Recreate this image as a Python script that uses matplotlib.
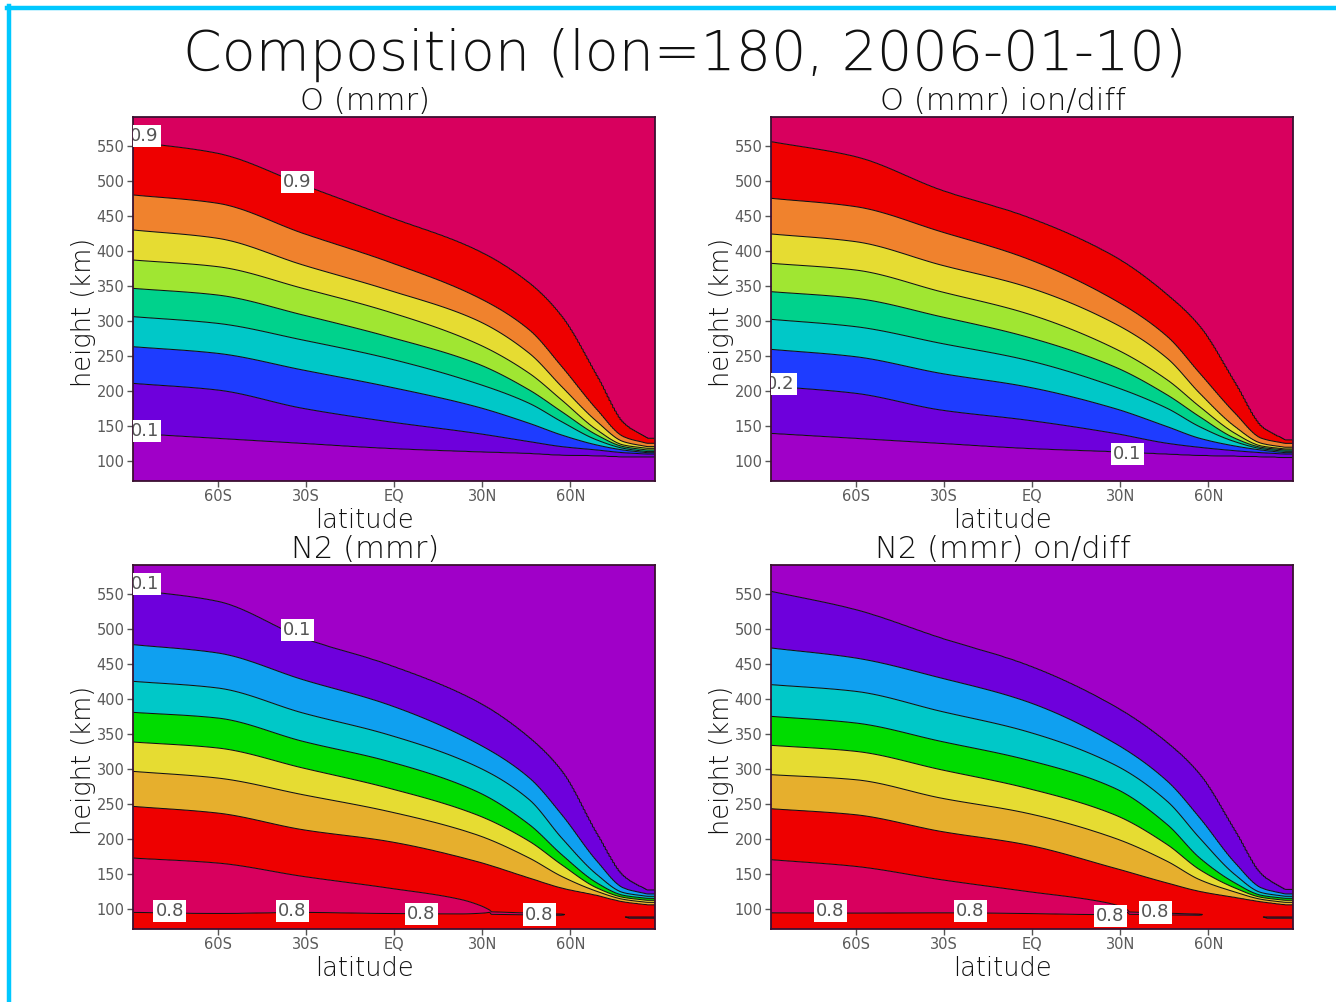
import numpy as np
import matplotlib
matplotlib.use("Agg")
import matplotlib.pyplot as plt
from matplotlib.lines import Line2D

# ---------------- data ----------------
levels_o = [0.1, 0.2, 0.3, 0.4, 0.5, 0.6, 0.7, 0.8, 0.9]
levels_n2 = [0.1, 0.2, 0.3, 0.4, 0.5, 0.6, 0.7, 0.8]
col_lats = [-88.75, -60, -31, -2, 28, 46, 57, 69, 78, 86]

# heights (km) of each contour level (rows 0.1 .. 0.9) at col_lats -- O (mmr)
o_mmr_km = [
    [139.5, 132.4, 125.2, 118.1, 113.3, 110.9, 108.5, 107.6, 106.2, 106.2],
    [210.9, 201.4, 175.2, 156.2, 139.5, 127.6, 120.5, 115.7, 111.9, 110.0],
    [263.3, 253.8, 230.0, 206.2, 177.6, 153.8, 137.1, 122.8, 115.7, 111.9],
    [306.2, 296.6, 272.8, 246.6, 211.0, 182.4, 156.2, 130.0, 118.1, 113.3],
    [346.6, 337.1, 308.6, 277.6, 239.5, 201.4, 170.5, 137.1, 120.5, 115.7],
    [387.1, 377.6, 346.6, 313.3, 268.1, 225.2, 187.1, 144.3, 122.8, 118.1],
    [430.0, 418.1, 380.0, 344.3, 301.4, 253.8, 206.2, 156.2, 127.6, 120.5],
    [480.0, 468.1, 425.2, 384.7, 334.7, 287.1, 234.7, 173.0, 134.7, 125.2],
    [556.2, 539.5, 494.3, 449.0, 401.4, 353.8, 306.2, 220.5, 153.8, 132.4],
]
# O (mmr) ion/diff
o_iondiff_km = [
    [139.5, 132.4, 125.2, 118.1, 113.3, 110.0, 108.1, 107.1, 106.2, 105.2],
    [207.1, 196.7, 172.8, 158.5, 139.5, 125.2, 119.5, 114.7, 111.9, 110.0],
    [259.5, 249.0, 225.2, 206.2, 175.2, 149.0, 132.4, 121.4, 115.7, 111.9],
    [302.4, 291.9, 268.1, 244.3, 206.2, 175.2, 149.0, 127.6, 117.6, 113.8],
    [341.9, 332.4, 306.2, 277.6, 234.7, 194.3, 163.3, 132.4, 119.5, 115.7],
    [382.4, 372.8, 341.9, 311.0, 260.9, 215.7, 177.6, 139.5, 121.4, 117.1],
    [424.3, 413.3, 380.0, 349.0, 296.6, 246.6, 196.7, 149.0, 125.2, 119.5],
    [475.2, 463.3, 427.6, 389.5, 330.0, 277.6, 225.2, 168.1, 132.4, 125.2],
    [556.2, 534.7, 487.1, 449.0, 391.9, 337.1, 291.9, 210.9, 149.0, 130.0],
]
# N2 (mmr), rows 0.1 .. 0.7
n2_mmr_km = [
    [556.2, 539.5, 487.1, 449.0, 396.6, 344.3, 296.6, 206.2, 146.6, 126.6],
    [477.6, 465.7, 427.6, 391.9, 337.1, 287.1, 234.7, 168.1, 130.0, 121.4],
    [425.2, 415.7, 380.0, 349.0, 303.8, 256.2, 201.4, 149.0, 123.3, 118.1],
    [380.9, 372.8, 339.5, 311.0, 268.1, 220.5, 177.6, 137.1, 119.5, 115.2],
    [338.5, 330.0, 301.4, 272.8, 234.7, 196.7, 163.3, 130.0, 116.6, 112.4],
    [296.6, 287.1, 263.3, 239.5, 206.2, 172.8, 146.6, 125.2, 113.8, 109.5],
    [246.6, 237.1, 213.3, 196.7, 168.1, 144.3, 130.0, 119.5, 110.4, 106.2],
]
# N2 (mmr) on/diff
n2_ondiff_km = [
    [553.8, 527.6, 487.1, 449.0, 389.5, 337.1, 291.9, 210.9, 149.0, 127.6],
    [472.8, 458.5, 430.0, 396.6, 337.1, 282.4, 230.0, 165.7, 130.0, 121.4],
    [420.5, 410.9, 382.4, 353.8, 306.2, 253.8, 201.4, 149.0, 123.3, 118.1],
    [375.2, 365.7, 339.5, 313.3, 272.8, 220.5, 172.8, 137.1, 119.5, 115.2],
    [333.8, 325.2, 299.0, 272.8, 234.7, 191.9, 156.2, 130.0, 116.6, 112.4],
    [291.9, 284.7, 258.5, 237.1, 201.4, 168.1, 141.9, 124.3, 113.8, 109.5],
    [243.3, 234.7, 210.9, 191.9, 158.5, 137.1, 125.2, 116.6, 110.4, 106.2],
]
# N2 > 0.8 region near the bottom (south of ~33N)
crim_lats = [-88.75, -60, -31, -2, 23, 30, 33]
n2_mmr_up08 = [172.8, 165.7, 146.6, 130.0, 113.3, 103.8, 97.5]
n2_mmr_lo08 = [95.0, 93.5, 95.0, 93.5, 93.0, 94.0, 95.5]
n2_ondiff_up08 = [170.5, 160.9, 141.9, 125.2, 110.9, 103.8, 97.5]
n2_ondiff_lo08 = [94.5, 94.0, 94.5, 93.5, 92.0, 93.0, 95.5]
crim_peak = [0.83, 0.83, 0.83, 0.825, 0.815, 0.808, 0.802]
# thin N2 ~0.8 sliver north of 33N
sliver_lats = [33, 57, 62, 76, 80, 88.75]
sliver_peak = [0.803, 0.802, 0.795, 0.795, 0.803, 0.803]
sliver_km = [94, 92, 92, 90, 88, 88]

xtick_vals = [-60, -30, 0, 30, 60]
xtick_labels = ["60S", "30S", "EQ", "30N", "60N"]
ytick_vals = [100, 150, 200, 250, 300, 350, 400, 450, 500, 550]

colors_o = ["#a000c8", "#6e00dc", "#1e3cff", "#00c8c8", "#00d28c",
            "#a0e632", "#e6dc32", "#f0822d", "#ee0000", "#d8005e"]
colors_n2 = ["#a000c8", "#6e00dc", "#0fa0f0", "#00c8c8", "#00dc00",
             "#e6dc32", "#e6af2d", "#ee0000", "#d8005e"]

# ---------------- grid helpers ----------------
LAT_MIN, LAT_MAX = -88.75, 88.75
Z_MIN, Z_MAX = 71.4, 591.4
lat_grid = np.linspace(LAT_MIN, LAT_MAX, 285)
z_grid = np.linspace(Z_MIN, Z_MAX, 700)


def pchip(x, y, xn):
    x = np.asarray(x, float); y = np.asarray(y, float)
    xn = np.clip(np.asarray(xn, float), x[0], x[-1])
    h = np.diff(x); d = np.diff(y) / h
    n = len(x); m = np.zeros(n)
    m[0], m[-1] = d[0], d[-1]
    for k in range(1, n - 1):
        if d[k - 1] * d[k] > 0:
            w1 = 2 * h[k] + h[k - 1]; w2 = h[k] + 2 * h[k - 1]
            m[k] = (w1 + w2) / (w1 / d[k - 1] + w2 / d[k])
    i = np.clip(np.searchsorted(x, xn) - 1, 0, n - 2)
    t = (xn - x[i]) / h[i]
    h00 = 2 * t**3 - 3 * t**2 + 1; h10 = t**3 - 2 * t**2 + t
    h01 = -2 * t**3 + 3 * t**2; h11 = t**3 - t**2
    return h00 * y[i] + h10 * h[i] * m[i] + h01 * y[i + 1] + h11 * h[i] * m[i + 1]


def field_o(iso):
    H = np.array([pchip(col_lats, row, lat_grid) for row in iso])
    for k in range(1, H.shape[0]):
        H[k] = np.maximum(H[k], H[k - 1] + 0.3)
    Z = np.empty((len(z_grid), len(lat_grid)))
    for j in range(len(lat_grid)):
        hs = np.concatenate([[Z_MIN - 1], H[:, j], [Z_MAX + 10]])
        vs = np.concatenate([[0.05], levels_o, [0.95]])
        Z[:, j] = np.interp(z_grid, hs, vs)
    return Z


def field_n2(iso, up08, lo08):
    H = np.array([pchip(col_lats, row, lat_grid) for row in iso])  # 0.1 .. 0.7
    for k in range(H.shape[0] - 2, -1, -1):
        H[k] = np.maximum(H[k], H[k + 1] + 0.3)
    up = pchip(crim_lats, up08, lat_grid)
    lo = pchip(crim_lats, lo08, lat_grid)
    pk = np.interp(lat_grid, crim_lats, crim_peak)
    sp = np.interp(lat_grid, sliver_lats, sliver_peak)
    sh = np.interp(lat_grid, sliver_lats, sliver_km)
    Z = np.empty((len(z_grid), len(lat_grid)))
    for j, la in enumerate(lat_grid):
        if la <= crim_lats[-1]:
            hs = [Z_MIN - 1, lo[j], 0.5 * (lo[j] + up[j]), up[j]]
            vs = [0.76, 0.8, pk[j], 0.8]
        else:
            hs = [Z_MIN - 1, sh[j]]
            vs = [0.76, sp[j]]
        hs = hs + list(H[::-1, j]) + [Z_MAX + 10]
        vs = vs + levels_n2[:7][::-1] + [0.05]
        hs = np.array(hs)
        for k in range(1, len(hs)):
            hs[k] = max(hs[k], hs[k - 1] + 0.2)
        Z[:, j] = np.interp(z_grid, hs, vs)
    return Z


# ---------------- figure ----------------
W, Hh = 1336, 1002
fig = plt.figure(figsize=(W / 100, Hh / 100), dpi=100)
fig.patch.set_facecolor("white")

FONT = "DejaVu Sans"
TW = "light"


def fx(px):
    return px / W


def fy(py):
    return 1 - py / Hh


panels = [
    dict(rect=(133, 117), kind="o", iso=o_mmr_km, title="O (mmr)",
         labels=[(-84.8, 564, "0.9"), (-32.8, 498.6, "0.9"), (-84.8, 142.9, "0.1")]),
    dict(rect=(771, 117), kind="o", iso=o_iondiff_km, title="O (mmr) ion/diff",
         labels=[(-85.5, 210, "0.2"), (32.4, 110, "0.1")]),
    dict(rect=(133, 565), kind="n2", iso=n2_mmr_km, up=n2_mmr_up08, lo=n2_mmr_lo08,
         title="N2 (mmr)",
         labels=[(-84.8, 564, "0.1"), (-32.8, 498.6, "0.1"),
                 (-76.3, 97, "0.8"), (-34.5, 97, "0.8"), (9.3, 93, "0.8"), (49.4, 92, "0.8")]),
    dict(rect=(771, 565), kind="n2", iso=n2_ondiff_km, up=n2_ondiff_up08, lo=n2_ondiff_lo08,
         title="N2 (mmr) on/diff",
         labels=[(-68.5, 97, "0.8"), (-20.9, 97, "0.8"), (26.6, 90, "0.8"), (41.9, 95, "0.8")]),
]

for p in panels:
    x0, y0 = p["rect"]
    ax = fig.add_axes([fx(x0), fy(y0 + 364), fx(522), 364 / Hh])
    if p["kind"] == "o":
        Z = field_o(p["iso"])
        lev = [0.0] + levels_o + [1.0]
        cols = colors_o
        lines = levels_o
    else:
        Z = field_n2(p["iso"], p["up"], p["lo"])
        lev = [0.0] + levels_n2 + [1.0]
        cols = colors_n2
        lines = levels_n2
    ax.contourf(lat_grid, z_grid, Z, levels=lev, colors=cols, antialiased=True)
    ax.contour(lat_grid, z_grid, Z, levels=lines, colors="#111111", linewidths=0.75)
    for la, hv, s in p["labels"]:
        ax.text(la, hv, s, ha="center", va="center", fontsize=13, color="#555555",
                family=FONT, clip_on=True, zorder=6,
                bbox=dict(boxstyle="square,pad=0.12", fc="white", ec="none"))
    ax.set_xlim(LAT_MIN, LAT_MAX)
    ax.set_ylim(Z_MIN, Z_MAX)
    ax.set_xticks(xtick_vals)
    ax.set_xticklabels(xtick_labels)
    ax.set_yticks(ytick_vals)
    ax.tick_params(direction="out", length=4, width=1, labelsize=10.5,
                   labelcolor="#5a5a5a", color="#555555", pad=2)
    for sp in ax.spines.values():
        sp.set_color("#3a1030")
        sp.set_linewidth(1.3)
    cx = x0 + 232
    fig.text(fx(cx), fy(y0 - 16), p["title"], ha="center", va="center",
             fontsize=22, family=FONT, fontweight=TW, color="#111111")
    fig.text(fx(cx), fy(y0 + 403), "latitude", ha="center", va="center",
             fontsize=18.5, family=FONT, fontweight=TW, color="#111111")
    fig.text(fx(x0 - 49), fy(y0 + 195), "height (km)", ha="center", va="center",
             rotation=90, fontsize=18.5, family=FONT, fontweight=TW, color="#111111")

fig.text(fx(685), fy(55), "Composition (lon=180, 2006-01-10)", ha="center", va="center",
         fontsize=40, family=FONT, fontweight=TW, color="#111111")

# cyan frame (top and left edges)
fig.add_artist(Line2D([fx(7), 1.0], [fy(7.5), fy(7.5)], color="#00c8ff", lw=3.2,
                      transform=fig.transFigure))
fig.add_artist(Line2D([fx(9), fx(9)], [fy(5.5), 0.0], color="#00c8ff", lw=3.2,
                      transform=fig.transFigure))

fig.savefig("out.png", dpi=100)
